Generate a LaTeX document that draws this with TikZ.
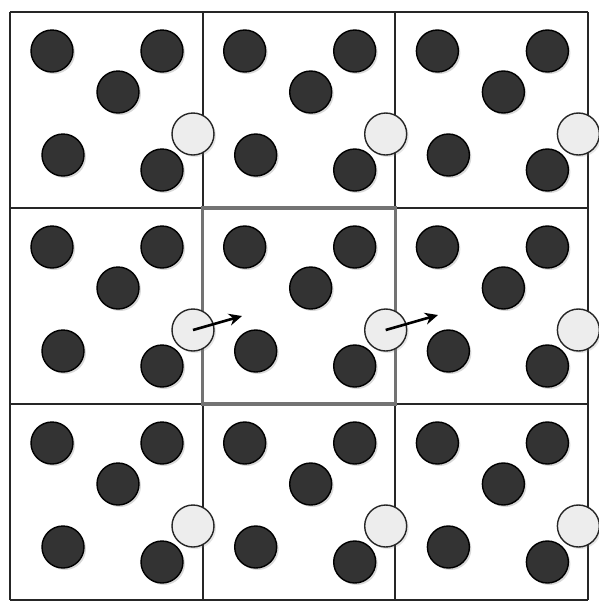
\documentclass[tikz,border=0pt]{standalone}
\usepackage{tikz}
\usetikzlibrary{arrows.meta, shadows}

\tikzset{
  atom/.style={circle, draw=black, line width=0.7pt, fill=black!80, minimum size=21pt, inner sep=0pt,
    drop shadow={shadow xshift=1pt, shadow yshift=-1pt, opacity=0.3}},
  ghost/.style={circle, draw=black!85, line width=0.7pt, fill=black!7, minimum size=21pt, inner sep=0pt,
    drop shadow={shadow xshift=1pt, shadow yshift=-1pt, opacity=0.2}},
}

\begin{document}
\begin{tikzpicture}[x=0.5pt, y=-0.5pt]
\useasboundingbox (0,0) rectangle (599,602);
% periodic images of the box
\foreach \k in {0,...,3}{
  \draw[line width=1.1pt, black!85] (10+\k*192.7,12) -- ++(0,588);
  \draw[line width=1.1pt, black!85] (10,12+\k*196) -- ++(578,0);
}
\draw[line width=1.7pt, black!55] (202.7,208) rectangle (395.4,404);

\foreach \i in {0,1,2}{
  \foreach \j in {0,1,2}{
    \begin{scope}[shift={(10+\i*192.7,12+\j*196)}]
      \node[atom] (a-\i\j-1) at (42,39) {};
      \node[atom] (a-\i\j-2) at (152,39) {};
      \node[atom] (a-\i\j-3) at (108,80) {};
      \node[atom] (a-\i\j-4) at (53,143) {};
      \node[atom] (a-\i\j-5) at (152,158) {};
      \node[ghost] (w-\i\j) at (183,122) {};
    \end{scope}
  }
}

\coordinate (tip-1) at (242,316);
\coordinate (tip-2) at (438,315);
\draw[-{Stealth[length=6.5pt, width=6pt]}, line width=1.3pt] (w-01.center) -- (tip-1);
\draw[-{Stealth[length=6.5pt, width=6pt]}, line width=1.3pt] (w-11.center) -- (tip-2);
\end{tikzpicture}
\end{document}
